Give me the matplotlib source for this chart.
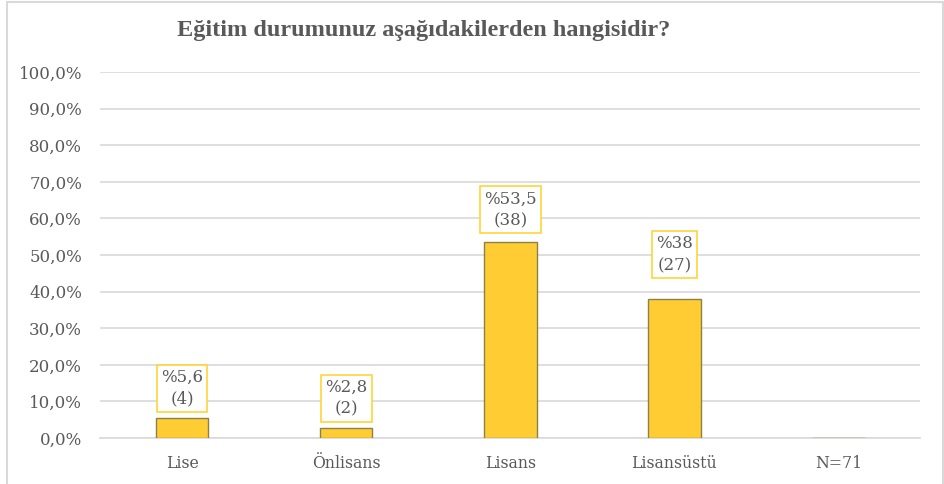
import numpy as np
import matplotlib.pyplot as plt
from matplotlib.patches import Rectangle

categories = ["Lise", "Önlisans", "Lisans", "Lisansüstü", "N=71"]
percents = [5.6, 2.8, 53.5, 38.0, 0.0]
counts = [4, 2, 38, 27]
label_texts = ["%5,6\n(4)", "%2,8\n(2)", "%53,5\n(38)", "%38\n(27)"]

# how far above each bar the label box sits (points), as dragged in the original
label_offsets = [7.0, 7.3, 9.5, 18.0]

plt.rcParams['font.family'] = ['DejaVu Serif']
gray = "#595959"

fig = plt.figure(figsize=(9.45, 4.84), dpi=100)
ax = fig.add_axes([0.106, 0.095, 0.868, 0.756])

x = np.arange(len(categories))
ax.bar(x, percents, width=0.32, color="#FFCD33", edgecolor="#8C7F4A", linewidth=1, zorder=3)

for i, txt in enumerate(label_texts):
    ax.annotate(txt, (x[i], percents[i]), xytext=(0, label_offsets[i]),
                textcoords="offset points", ha="center", va="bottom",
                fontsize=12, color=gray, linespacing=1.35, zorder=4,
                bbox=dict(boxstyle="square,pad=0.25", fc="white", ec="#FFD43B", lw=1.2))

ax.set_ylim(0, 100)
ax.set_xlim(-0.5, len(categories) - 0.5)
ax.set_yticks(np.arange(0, 101, 10))
ax.set_yticklabels([f"{v:.1f}%".replace(".", ",") for v in np.arange(0, 101, 10)])
ax.set_xticks(x)
ax.set_xticklabels(categories)
ax.tick_params(length=0, labelcolor=gray)
ax.tick_params(axis="y", pad=13, labelsize=12)
ax.tick_params(axis="x", pad=12, labelsize=11.3)
ax.grid(axis="y", color="#D9D9D9", linewidth=1.2, zorder=0)
for s in ["top", "right", "left"]:
    ax.spines[s].set_visible(False)
ax.spines["bottom"].set_color("#D9D9D9")
ax.spines["bottom"].set_linewidth(1.2)

fig.text(0.448, 0.937, "Eğitim durumunuz aşağıdakilerden hangisidir?",
         ha="center", va="center", fontsize=17.5, fontweight="bold", color=gray,
         family="Liberation Serif")

fig.patches.append(Rectangle((0.007, -0.01), 0.991, 1.005, transform=fig.transFigure,
                             fill=False, ec="#D9D9D9", lw=1.5))

fig.savefig("out.png", dpi=100)
